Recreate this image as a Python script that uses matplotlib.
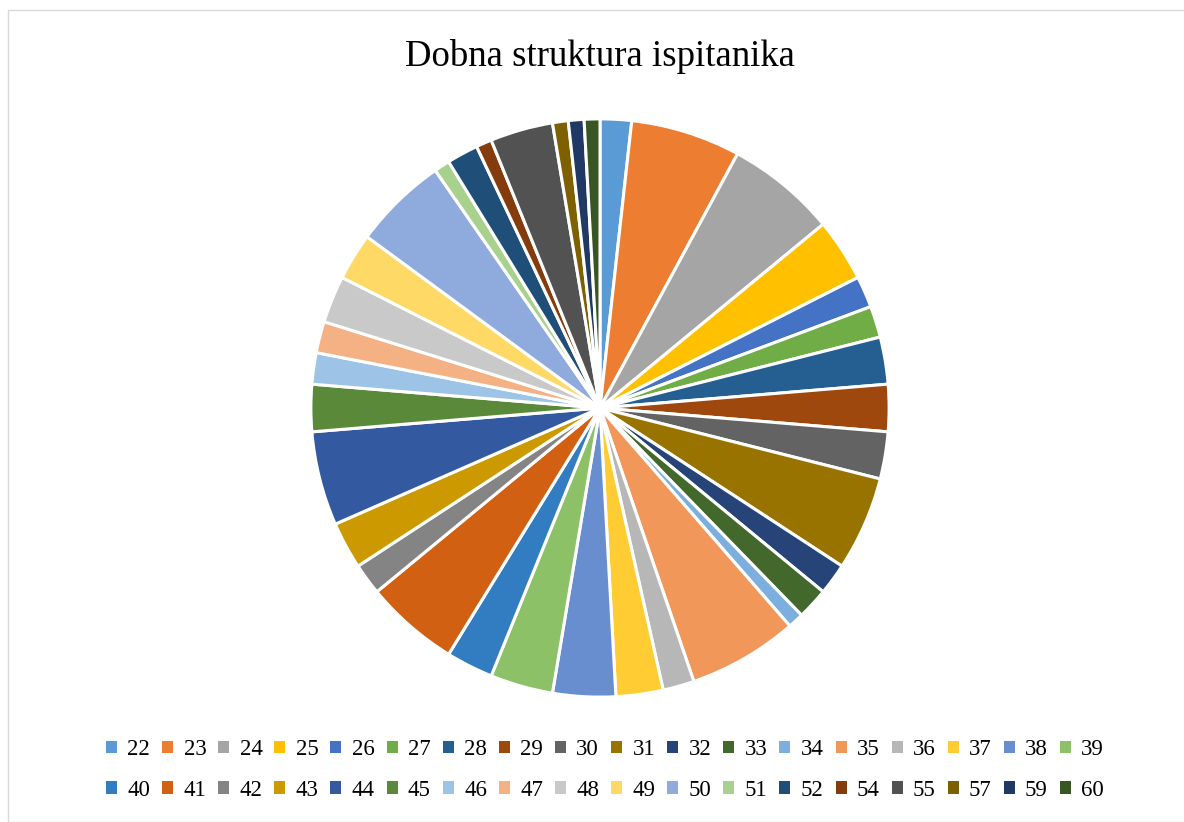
import matplotlib.pyplot as plt
from matplotlib.patches import Rectangle, Patch

# dob ispitanika i broj ispitanika
godine = ["22", "23", "24", "25", "26", "27", "28", "29", "30", "31", "32", "33",
          "34", "35", "36", "37", "38", "39", "40", "41", "42", "43", "44", "45",
          "46", "47", "48", "49", "50", "51", "52", "54", "55", "57", "59", "60"]
broj = [2, 7, 7, 4, 2, 2, 3, 3, 3, 6, 2, 2,
        1, 7, 2, 3, 4, 4, 3, 6, 2, 3, 6, 3,
        2, 2, 3, 3, 6, 1, 2, 1, 4, 1, 1, 1]
boje = ["#5B9BD5", "#ED7D31", "#A5A5A5", "#FFC000", "#4472C4", "#70AD47",
        "#255E91", "#9E480E", "#636363", "#997300", "#264478", "#43682B",
        "#7CAFDD", "#F1975A", "#B7B7B7", "#FFCD33", "#698ED0", "#8CC168",
        "#327DC2", "#D26012", "#848484", "#CC9A00", "#335AA1", "#5A8A39",
        "#9DC3E6", "#F4B183", "#C9C9C9", "#FFD966", "#8FAADC", "#A9D18E",
        "#1F4E79", "#843C0C", "#525252", "#7F6000", "#203864", "#375623"]

W, H = 1184, 822
fig = plt.figure(figsize=(W / 100, H / 100), dpi=100)
fig.patches.append(Rectangle((8 / W, 0), 1.2, (H - 10) / H, transform=fig.transFigure,
                             fill=False, edgecolor="#D9D9D9", linewidth=1.0))

cx, cy, r = 600, 408, 292
ax = fig.add_axes([(cx - r) / W, (H - cy - r) / H, 2 * r / W, 2 * r / H])
wedges, _ = ax.pie(broj, colors=boje, startangle=90, counterclock=False, radius=1,
                   wedgeprops=dict(edgecolor="white", linewidth=2.2))
ax.set_xlim(-1.01, 1.01)
ax.set_ylim(-1.01, 1.01)
ax.set_aspect("equal")
ax.axis("off")

fig.text(cx / W, 1 - 56 / H, "Dobna struktura ispitanika", ha="center", va="center",
         fontsize=26.5, family="Liberation Serif")

# legenda po redovima
n = 18
red = []
lab = []
for i in range(n):
    for j in (i, i + n):
        red.append(Patch(facecolor=wedges[j].get_facecolor(), edgecolor="none"))
        lab.append(godine[j])
fig.legend(red, lab, ncol=n, loc="center", bbox_to_anchor=(605 / W, 1 - 770 / H),
           frameon=False, prop=dict(family="Liberation Serif", size=16.5),
           handlelength=0.48, handleheight=0.48, handletextpad=0.45,
           columnspacing=0.52, labelspacing=0.85, borderpad=0)

fig.savefig("out.png", dpi=100)
